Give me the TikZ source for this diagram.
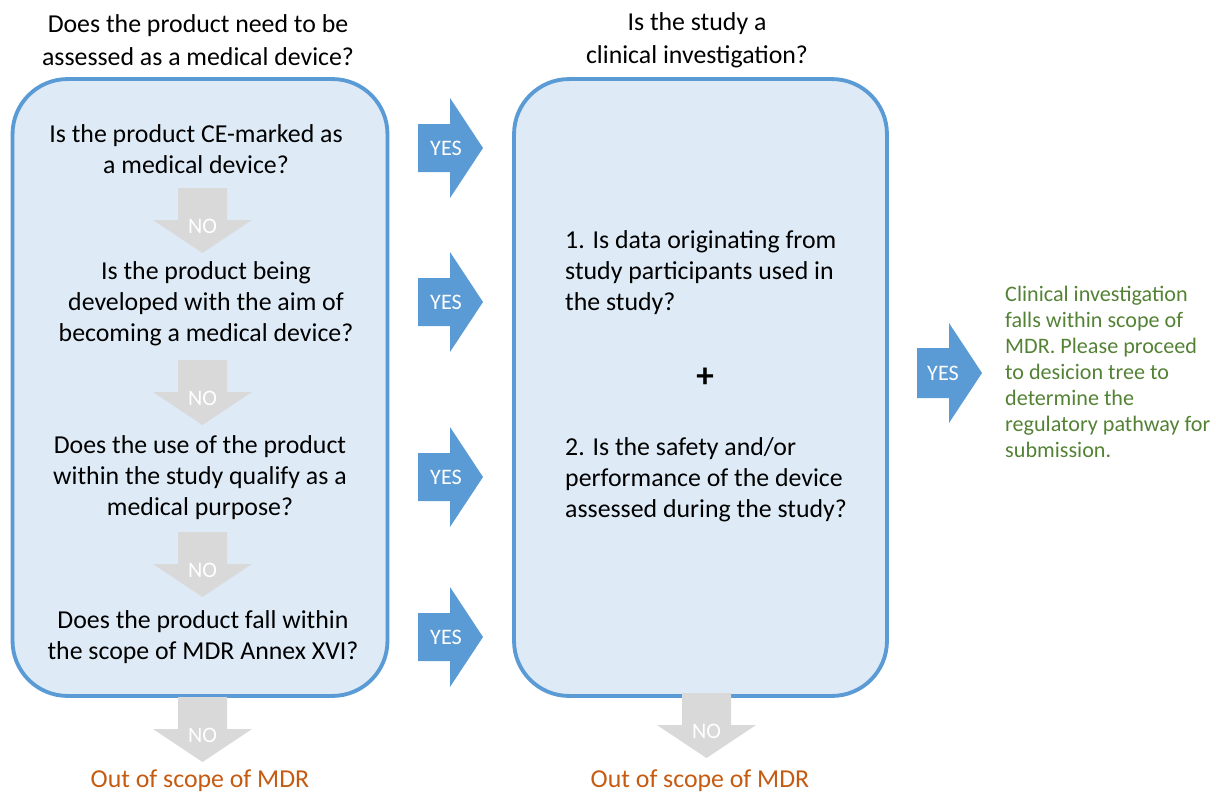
\documentclass[tikz,border=0pt]{standalone}
\usepackage{fontspec}
\setmainfont{Carlito}
\usetikzlibrary{positioning}

\definecolor{boxblue}{HTML}{5B9BD5}
\definecolor{boxfill}{HTML}{DEEBF7}
\definecolor{nogray}{HTML}{D9D9D9}
\definecolor{outorange}{HTML}{C55A11}
\definecolor{mdrgreen}{HTML}{548235}

\tikzset{
	box/.style={draw=boxblue, line width=2.2pt, fill=boxfill,
		rounded corners=1.1cm, minimum width=7.5cm, minimum height=12.34cm},
	question/.style={align=center, font=\fontsize{14.7}{17.6}\selectfont},
	header/.style={align=center, font=\fontsize{14.7}{18.8}\selectfont},
	answer/.style={text=white, font=\fontsize{12.6}{14}\selectfont},
	outscope/.style={text=outorange, font=\fontsize{14.7}{17}\selectfont}
}

\begin{document}
\begin{tikzpicture}[x=0.02cm, y=-0.02cm]

\useasboundingbox (0,0) rectangle (1216,794);

% Boxes
\node[box] (Assess) at (200,387.5) {};
\node[box, minimum width=7.46cm] (Study) at (700.5,387.5) {};

% Headers
\node[header] (Head-1) at (198,40) {Does the product need to be\\assessed as a medical device?};
\node[header] (Head-2) at (697,40) {Is the study a\\clinical investigation?};

% Questions
\node[question] (Q-1) at (196,149) {Is the product CE-marked as\\a medical device?};
\node[question] (Q-2) at (206,304) {Is the product being\\developed with the aim of\\becoming a medical device?};
\node[question] (Q-3) at (200,478) {Does the use of the product\\within the study qualify as a\\medical purpose?};
\node[question] (Q-4) at (203,637) {Does the product fall within\\the scope of MDR Annex XVI?};

% Criteria
\node[question, align=left, anchor=west] (C-1) at (559,273) {1. Is data originating from\\study participants used in\\the study?};
\node[question, font=\fontsize{20}{20}\bfseries] (Plus) at (705,378) {+};
\node[question, align=left, anchor=west] (C-2) at (559,480) {2. Is the safety and/or\\performance of the device\\assessed during the study?};

% YES arrows
\foreach \y [count=\i] in {148,302,477,637}
{
	\fill[boxblue] (418,\y-24) -- (450,\y-24) -- (450,\y-50) -- (483,\y)
		-- (450,\y+50) -- (450,\y+24) -- (418,\y+24) -- cycle;
	\node[answer] (Yes-\i) at (446,\y) {YES};
}
\fill[boxblue] (917,373-25) -- (949,373-25) -- (949,373-50) -- (982,373)
	-- (949,373+50) -- (949,373+25) -- (917,373+25) -- cycle;
\node[answer] (Yes-5) at (943,373) {YES};

% NO arrows
\foreach \x/\t [count=\i] in {202.5/188, 202.5/360, 202.5/532, 202.5/697, 706.5/693}
{
	\fill[nogray] (\x-24.5,\t) -- (\x+24.5,\t) -- (\x+24.5,\t+32) -- (\x+49.5,\t+32)
		-- (\x,\t+65) -- (\x-49.5,\t+32) -- (\x-24.5,\t+32) -- cycle;
	\node[answer] (No-\i) at (\x,\t+38) {NO};
}

% Results
\node[outscope] (Out-1) at (200,781) {Out of scope of MDR};
\node[outscope] (Out-2) at (700,781) {Out of scope of MDR};
\node[align=left, anchor=west, text=mdrgreen, font=\fontsize{12.6}{14.8}\selectfont] (Within) at (999,372)
	{Clinical investigation\\falls within scope of\\MDR. Please proceed\\to desicion tree to\\determine the\\regulatory pathway for\\submission.};

\end{tikzpicture}
\end{document}
